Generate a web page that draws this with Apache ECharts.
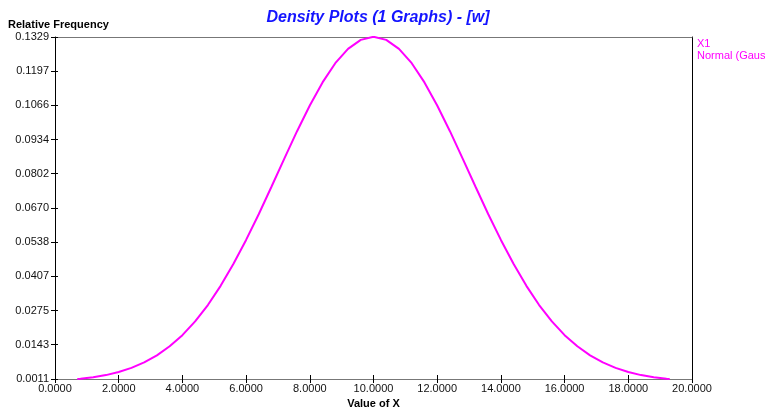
<!DOCTYPE html>
<html>
<head>
<meta charset="utf-8">
<script src="https://cdn.jsdelivr.net/npm/echarts@6/dist/echarts.min.js"></script>
<style>html,body{margin:0;padding:0;background:#fff}#c{width:765px;height:409px}</style>
</head>
<body>
<div id="c"></div>
<script>
var xValues = [0.7, 0.8, 1.2, 1.6, 2.0, 2.4, 2.8, 3.2, 3.6, 4.0, 4.4, 4.8, 5.2, 5.6, 6.0, 6.4, 6.8, 7.2, 7.6, 8.0, 8.4, 8.8, 9.2, 9.6, 10.0,
  10.4, 10.8, 11.2, 11.6, 12.0, 12.4, 12.8, 13.2, 13.6, 14.0, 14.4, 14.8, 15.2, 15.6, 16.0, 16.4, 16.8, 17.2, 17.6, 18.0, 18.4, 18.8, 19.2, 19.3];
var density = [0.0011, 0.0012, 0.0018, 0.0026, 0.0038, 0.0054, 0.0075, 0.0102, 0.0137, 0.0180, 0.0233, 0.0296, 0.0370, 0.0454, 0.0547, 0.0647, 0.0753, 0.0860, 0.0966, 0.1065, 0.1154, 0.1228, 0.1283, 0.1318, 0.1330,
  0.1318, 0.1283, 0.1228, 0.1154, 0.1065, 0.0966, 0.0860, 0.0753, 0.0647, 0.0547, 0.0454, 0.0370, 0.0296, 0.0233, 0.0180, 0.0137, 0.0102, 0.0075, 0.0054, 0.0038, 0.0026, 0.0018, 0.0012, 0.0011];
var yTickLabels = ['0.0011', '0.0143', '0.0275', '0.0407', '0.0538', '0.0670', '0.0802', '0.0934', '0.1066', '0.1197', '0.1329'];
var xTickLabels = ['0.0000', '2.0000', '4.0000', '6.0000', '8.0000', '10.0000', '12.0000', '14.0000', '16.0000', '18.0000', '20.0000'];
var titleText = 'Density Plots (1 Graphs) - [w]';
var legendLines = ['X1', 'Normal (Gaussian)'];

var pts = xValues.map(function (x, i) { return [x, density[i]]; });
var yVals = yTickLabels.map(parseFloat);
var font = 'Liberation Sans, Arial, sans-serif';

var chart = echarts.init(document.getElementById('c'));
chart.setOption({
  animation: false,
  backgroundColor: '#fff',
  title: {
    text: titleText, left: 373, textAlign: 'center', top: 5,
    textStyle: { color: '#1414ff', fontStyle: 'italic', fontWeight: 'bold', fontSize: 16, fontFamily: font }
  },
  grid: { left: 55, right: 73, top: 37, bottom: 30, show: false,
    containLabel: false, outerBoundsMode: 'none' },
  xAxis: [{
    type: 'value', min: 0, max: 20, interval: 2, position: 'bottom',
    name: 'Value of X', nameLocation: 'middle', nameGap: 19,
    nameTextStyle: { color: '#000', fontWeight: 'bold', fontSize: 11, fontFamily: font },
    axisLine: { show: true, onZero: false, lineStyle: { color: '#777', width: 1 } },
    axisTick: { show: true, length: 4, lineStyle: { color: '#000' } },
    axisLabel: { color: '#111', fontSize: 11, fontFamily: font, margin: 4, formatter: function (v) { return v.toFixed(4); } },
    splitLine: { show: false }
  }, {
    type: 'value', min: 0, max: 20, interval: 2, position: 'bottom',
    axisLine: { show: false, onZero: false }, axisTick: { show: true, inside: true, length: 4, lineStyle: { color: '#000' } },
    axisLabel: { show: false }, splitLine: { show: false }
  }, {
    type: 'value', min: 0, max: 20, position: 'top',
    axisLine: { show: true, onZero: false, lineStyle: { color: '#777', width: 1 } }, axisTick: { show: false },
    axisLabel: { show: false }, splitLine: { show: false }
  }],
  yAxis: [{
    type: 'value', min: 0.0011, max: 0.1329, position: 'left',
    axisLine: { show: true, onZero: false, lineStyle: { color: '#000', width: 1 } },
    axisTick: { show: true, length: 4, customValues: yVals, lineStyle: { color: '#000' } },
    axisLabel: { color: '#111', fontSize: 11, fontFamily: font, margin: 6, customValues: yVals,
      formatter: function (v) { var i = yVals.indexOf(v); return i >= 0 ? yTickLabels[i] : v.toFixed(4); } },
    splitLine: { show: false }
  }, {
    type: 'value', min: 0.0011, max: 0.1329, position: 'left',
    axisLine: { show: false, onZero: false },
    axisTick: { show: true, inside: true, length: 3, customValues: yVals, lineStyle: { color: '#000' } },
    axisLabel: { show: false }, splitLine: { show: false }
  }, {
    type: 'value', min: 0.0011, max: 0.1329, position: 'right',
    axisLine: { show: true, onZero: false, lineStyle: { color: '#000', width: 1 } }, axisTick: { show: false },
    axisLabel: { show: false }, splitLine: { show: false }
  }],
  graphic: [
    { type: 'text', left: 8, top: 19, style: { text: 'Relative Frequency', fill: '#000', font: 'bold 11px ' + font } },
    { type: 'text', left: 697, top: 38, style: { text: legendLines[0], fill: '#ff00ff', font: '11px ' + font } },
    { type: 'text', left: 697, top: 50, style: { text: legendLines[1], fill: '#ff00ff', font: '11px ' + font } }
  ],
  series: [{
    type: 'line', name: 'X1', data: pts, xAxisIndex: 0, yAxisIndex: 0,
    showSymbol: false, smooth: false, clip: true,
    lineStyle: { color: '#ff00ff', width: 2 }
  }]
});
</script>
</body>
</html>
